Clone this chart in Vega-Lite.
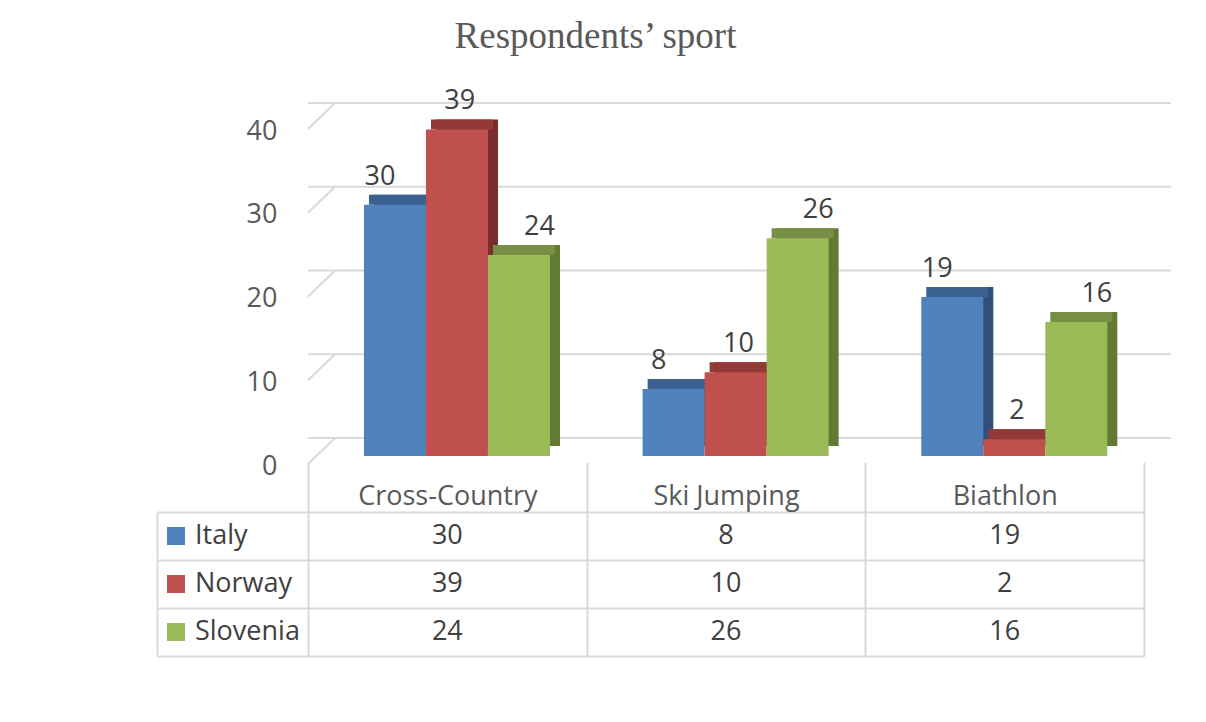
{
  "$schema": "https://vega.github.io/schema/vega-lite/v6.json",
  "padding": {"left": 157, "top": 18, "right": 10, "bottom": 10},
  "background": "white",
  "title": {"text": "Respondents’ sport", "font": "Liberation Serif", "fontSize": 37, "fontWeight": "normal", "color": "#595959", "anchor": "middle", "dx": -69, "offset": 31},
  "datasets": {
    "sports": [
      {"sport": "Cross-Country", "country": "Italy", "value": 30},
      {"sport": "Cross-Country", "country": "Norway", "value": 39},
      {"sport": "Cross-Country", "country": "Slovenia", "value": 24},
      {"sport": "Ski Jumping", "country": "Italy", "value": 8},
      {"sport": "Ski Jumping", "country": "Norway", "value": 10},
      {"sport": "Ski Jumping", "country": "Slovenia", "value": 26},
      {"sport": "Biathlon", "country": "Italy", "value": 19},
      {"sport": "Biathlon", "country": "Norway", "value": 2},
      {"sport": "Biathlon", "country": "Slovenia", "value": 16}
    ],
    "countries": [{"country": "Italy"}, {"country": "Norway"}, {"country": "Slovenia"}],
    "ticks": [{"value": 0}, {"value": 10}, {"value": 20}, {"value": 30}, {"value": 40}]
  },
  "columns": 2,
  "bounds": "flush",
  "spacing": {"row": 48, "column": 0},
  "concat": [
    {
      "width": 151, "height": 335,
      "data": {"values": [{"t": ""}]},
      "mark": {"type": "text"},
      "encoding": {"text": {"field": "t"}}
    },
    {
      "width": 836, "height": 335,
      "data": {"name": "sports"},
      "encoding": {
        "x": {"field": "sport", "type": "nominal", "scale": {"type": "band", "domain": ["Cross-Country", "Ski Jumping", "Biathlon"], "paddingInner": 0, "paddingOuter": 0}, "axis": null},
        "y": {"field": "value", "type": "quantitative", "scale": {"domain": [0, 40], "nice": false},
          "axis": {"values": [0, 10, 20, 30, 40], "grid": false, "domain": false, "ticks": false, "labelPadding": 31, "labelOffset": 2, "labelFont": "Open Sans", "labelFontSize": 27, "labelColor": "#595959", "labelOverlap": false, "title": null}}
      },
      "layer": [
        {
          "data": {"name": "ticks"},
          "mark": {"type": "rule", "color": "#d9d9d9", "strokeWidth": 2, "xOffset": 27, "x2Offset": 29, "yOffset": -26},
          "encoding": {"x": null}
        },
        {
          "data": {"name": "ticks"},
          "mark": {"type": "rule", "color": "#d9d9d9", "strokeWidth": 2, "x2Offset": 27, "y2Offset": -26},
          "encoding": {
            "x": {"datum": "Cross-Country", "type": "nominal", "bandPosition": 0, "axis": null},
            "x2": {"datum": "Cross-Country", "bandPosition": 0},
            "y2": {"field": "value"}
          }
        },
        {
          "mark": {"type": "bar", "yOffset": -18, "y2Offset": -18},
          "encoding": {
            "xOffset": {"field": "country", "type": "nominal", "scale": {"domain": ["Italy", "Norway", "Slovenia"], "paddingInner": 0, "paddingOuter": 0.747, "align": 0.712}},
            "y2": {"datum": 0},
            "color": {"field": "country", "type": "nominal", "scale": {"domain": ["Italy", "Norway", "Slovenia"], "range": ["#30507a", "#7a2e2c", "#627a33"]}, "legend": null}
          }
        },
        {
          "mark": {"type": "bar", "yOffset": -18, "y2Offset": -8},
          "encoding": {
            "xOffset": {"field": "country", "type": "nominal", "scale": {"domain": ["Italy", "Norway", "Slovenia"], "paddingInner": 0, "paddingOuter": 0.747, "align": 0.658}},
            "y2": {"field": "value"},
            "color": {"field": "country", "type": "nominal", "scale": {"domain": ["Italy", "Norway", "Slovenia"], "range": ["#3b6190", "#933a38", "#768f45"]}, "legend": null}
          }
        },
        {
          "mark": {"type": "bar", "yOffset": -8, "y2Offset": -8},
          "encoding": {
            "xOffset": {"field": "country", "type": "nominal", "scale": {"domain": ["Italy", "Norway", "Slovenia"], "paddingInner": 0, "paddingOuter": 0.747, "align": 0.604}},
            "y2": {"datum": 0},
            "color": {"field": "country", "type": "nominal", "scale": {"domain": ["Italy", "Norway", "Slovenia"], "range": ["#4f81bd", "#c0504d", "#9bbb59"]}, "legend": null}
          }
        },
        {
          "mark": {"type": "text", "yOffset": -28, "baseline": "alphabetic", "font": "Open Sans", "fontSize": 27, "color": "#404040"},
          "encoding": {
            "xOffset": {"field": "country", "type": "nominal", "scale": {"domain": ["Italy", "Norway", "Slovenia"], "paddingInner": 0, "paddingOuter": 0.747, "align": 0.604}},
            "text": {"field": "value", "type": "quantitative"}
          }
        }
      ],
      "resolve": {"scale": {"color": "independent", "xOffset": "independent"}}
    },
    {
      "width": 151, "height": 144,
      "data": {"name": "countries"},
      "encoding": {
        "y": {"field": "country", "type": "nominal", "scale": {"type": "band", "domain": ["Italy", "Norway", "Slovenia"], "paddingInner": 0, "paddingOuter": 0},
          "axis": {"tickBand": "extent", "grid": true, "gridColor": "#d9d9d9", "gridWidth": 2, "domain": true, "domainColor": "#d9d9d9", "domainWidth": 2, "ticks": false, "labels": false, "title": null}}
      },
      "layer": [
        {
          "mark": {"type": "point", "shape": "square", "filled": true, "size": 324, "opacity": 1, "xOffset": -56.5},
          "encoding": {
            "color": {"field": "country", "type": "nominal", "scale": {"domain": ["Italy", "Norway", "Slovenia"], "range": ["#4f81bd", "#c0504d", "#9bbb59"]}, "legend": null}
          }
        },
        {
          "mark": {"type": "text", "align": "left", "baseline": "middle", "xOffset": -37.5, "font": "Open Sans", "fontSize": 27, "color": "#404040"},
          "encoding": {"text": {"field": "country"}}
        }
      ]
    },
    {
      "width": 836, "height": 144,
      "data": {"name": "sports"},
      "mark": {"type": "text", "font": "Open Sans", "fontSize": 27, "color": "#404040", "baseline": "middle"},
      "encoding": {
        "x": {"field": "sport", "type": "nominal", "scale": {"type": "band", "domain": ["Cross-Country", "Ski Jumping", "Biathlon"], "paddingInner": 0, "paddingOuter": 0},
          "axis": {"orient": "top", "tickBand": "extent", "grid": true, "gridColor": "#d9d9d9", "gridWidth": 2, "ticks": true, "tickSize": 50, "tickColor": "#d9d9d9", "tickWidth": 2, "domain": false, "labelPadding": -42, "labelBaseline": "alphabetic", "labelFont": "Open Sans", "labelFontSize": 27, "labelColor": "#595959", "labelAngle": 0, "title": null}},
        "y": {"field": "country", "type": "nominal", "scale": {"type": "band", "domain": ["Italy", "Norway", "Slovenia"], "paddingInner": 0, "paddingOuter": 0},
          "axis": {"tickBand": "extent", "grid": true, "gridColor": "#d9d9d9", "gridWidth": 2, "ticks": false, "labels": false, "domain": false, "title": null}},
        "text": {"field": "value", "type": "quantitative"}
      }
    }
  ],
  "config": {"view": {"stroke": null}, "font": "Open Sans"}
}
